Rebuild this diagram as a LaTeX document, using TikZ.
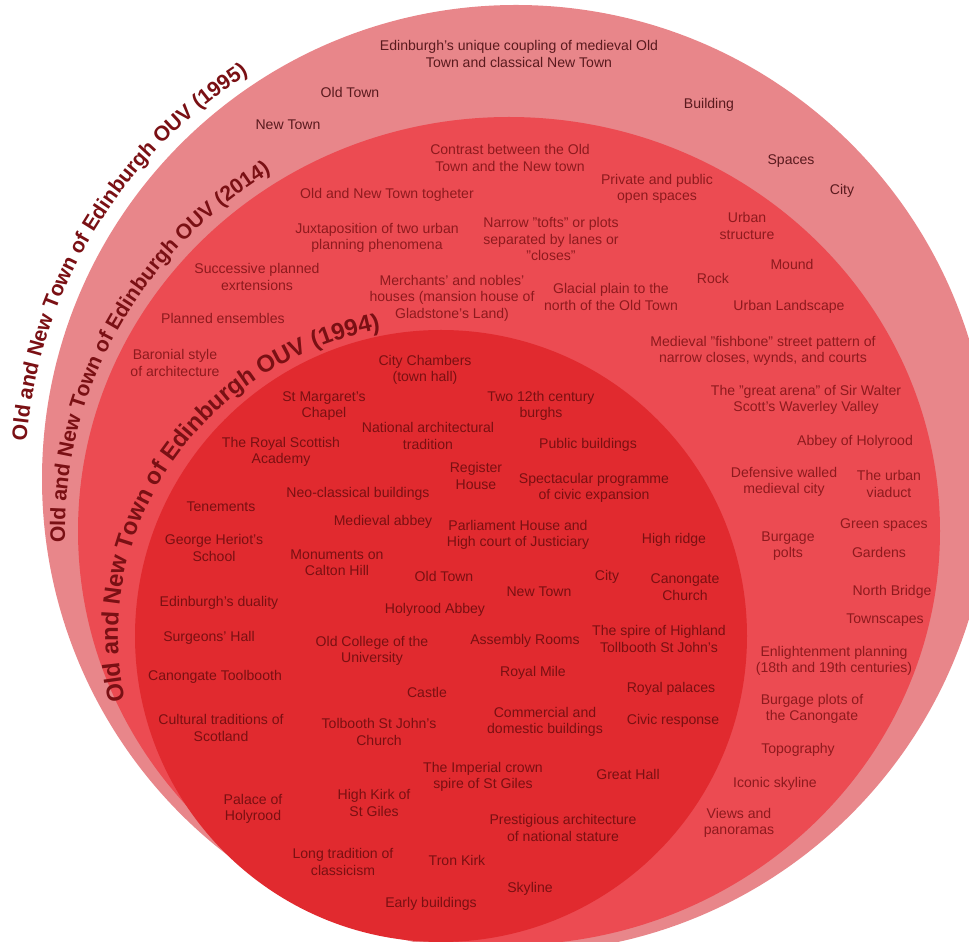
\documentclass[tikz,border=0pt]{standalone}
\usepackage{fontspec}
\setmainfont{Liberation Sans}
\usepackage{xcolor}
\usetikzlibrary{decorations.text}

\definecolor{outerpink}{HTML}{E8868A}
\definecolor{midred}{HTML}{EC4B52}
\definecolor{innerred}{HTML}{E12A2F}
\definecolor{outertext}{HTML}{5A1A1E}
\definecolor{midtext}{HTML}{8E1A1E}
\definecolor{innertext}{HTML}{7A1012}
\definecolor{titlered}{HTML}{7A1014}

\newcommand{\ttlfont}[1]{\bfseries\fontsize{#1}{#1}\selectfont}

\begin{document}
\begin{tikzpicture}[
    x=0.025cm, y=0.025cm,
    lbl/.style={align=center, inner sep=0pt, font=\fontsize{10}{11.7}\selectfont},
    outertxt/.style={lbl, text=outertext},
    midtxt/.style={lbl, text=midtext},
    innertxt/.style={lbl, text=innertext},
    ttl/.style={decorate, decoration={text along path, text align=left, text color=titlered, text={#1}}}
]

\useasboundingbox (0,0) rectangle (969,942);
\clip (0,0) rectangle (969,942);

\coordinate (outerc) at (516,463);
\coordinate (midc) at (509,411);
\coordinate (innerc) at (441,306);

% the three rings
\fill[outerpink] (outerc) circle[radius=474];
\fill[midred] (midc) ellipse[x radius=431, y radius=414];
\fill[innerred] (innerc) circle[radius=306];

% curved titles
\path[ttl={|\ttlfont{15}|Old and New Town of Edinburgh OUV (1995)}]
    ([shift={(175.5:491 and 483)}]outerc) arc[start angle=175.5, end angle=100, x radius=491, y radius=483];
\path[ttl={|\ttlfont{15}|Old and New Town of Edinburgh OUV (2014)}]
    ([shift={(181.6:444 and 425)}]midc) arc[start angle=181.6, end angle=100, x radius=444, y radius=425];
\path[ttl={|\ttlfont{17}|Old and New Town of Edinburgh OUV (1994)}]
    ([shift={(192:323 and 312)}]innerc) arc[start angle=192, end angle=90, x radius=323, y radius=312];

% outer ring (1995)
\node[outertxt] (coupling) at (519,888) {Edinburgh's unique coupling of medieval Old\\Town and classical New Town};
\node[outertxt] (oldtown-o) at (350,850) {Old Town};
\node[outertxt] (newtown-o) at (288,817) {New Town};
\node[outertxt] (building) at (709,837) {Building};
\node[outertxt] (spaces) at (791,781) {Spaces};
\node[outertxt] (city-o) at (842,751) {City};

% middle ring (2014)
\node[midtxt] (contrast) at (510,784) {Contrast between the Old\\Town and the New town};
\node[midtxt] (private) at (657,753) {Private and public\\open spaces};
\node[midtxt] (together) at (387,747) {Old and New Town togheter};
\node[midtxt] (tofts) at (551,703) {Narrow "tofts" or plots\\separated by lanes or\\"closes"};
\node[midtxt] (structure) at (747,716) {Urban\\structure};
\node[midtxt] (juxta) at (377,704) {Juxtaposition of two urban\\planning phenomena};
\node[midtxt] (successive) at (257,665) {Successive planned\\exrtensions};
\node[midtxt] (merchants) at (452,644) {Merchants' and nobles'\\houses (mansion house of\\Gladstone's Land)};
\node[midtxt] (glacial) at (611,645) {Glacial plain to the\\north of the Old Town};
\node[midtxt] (rock) at (713,664) {Rock};
\node[midtxt] (mound) at (792,678) {Mound};
\node[midtxt] (landscape) at (789,635) {Urban Landscape};
\node[midtxt] (ensembles) at (223,624) {Planned ensembles};
\node[midtxt] (baronial) at (175,579) {Baronial style\\of architecture};
\node[midtxt] (fishbone) at (763,591) {Medieval "fishbone" street pattern of\\narrow closes, wynds, and courts};
\node[midtxt] (arena) at (806,542) {The "great arena" of Sir Walter\\Scott's Waverley Valley};
\node[midtxt] (abbey-h) at (855,500) {Abbey of Holyrood};
\node[midtxt] (walled) at (784,460) {Defensive walled\\medieval city};
\node[midtxt] (viaduct) at (889,458) {The urban\\viaduct};
\node[midtxt] (green) at (884,417) {Green spaces};
\node[midtxt] (polts) at (788,396) {Burgage\\polts};
\node[midtxt] (gardens) at (879,390) {Gardens};
\node[midtxt] (bridge) at (892,350) {North Bridge};
\node[midtxt] (townscapes) at (885,322) {Townscapes};
\node[midtxt] (enlight) at (834,281) {Enlightenment planning\\(18th and 19th centuries)};
\node[midtxt] (burgage) at (812,233) {Burgage plots of\\the Canongate};
\node[midtxt] (topo) at (798,192) {Topography};
\node[midtxt] (iconic) at (775,158) {Iconic skyline};
\node[midtxt] (views) at (739,119) {Views and\\panoramas};

% inner ring (1994)
\node[innertxt] (chambers) at (425,572) {City Chambers\\(town hall)};
\node[innertxt] (margaret) at (324,536) {St Margaret's\\Chapel};
\node[innertxt] (burghs) at (541,536) {Two 12th century\\burghs};
\node[innertxt] (national) at (428,506) {National architectural\\tradition};
\node[innertxt] (academy) at (281,490) {The Royal Scottish\\Academy};
\node[innertxt] (public) at (588,497) {Public buildings};
\node[innertxt] (register) at (476,466) {Register\\House};
\node[innertxt] (spectacular) at (594,454) {Spectacular programme\\of civic expansion};
\node[innertxt] (tenements) at (221,435) {Tenements};
\node[innertxt] (neoclassical) at (358,448) {Neo-classical buildings};
\node[innertxt] (medabbey) at (383,420) {Medieval abbey};
\node[innertxt] (parliament) at (518,407) {Parliament House and\\High court of Justiciary};
\node[innertxt] (heriot) at (214,394) {George Heriot's\\School};
\node[innertxt] (calton) at (337,379) {Monuments on\\Calton Hill};
\node[innertxt] (ridge) at (674,402) {High ridge};
\node[innertxt] (oldtown-i) at (444,366) {Old Town};
\node[innertxt] (city-i) at (607,365) {City};
\node[innertxt] (newtown-i) at (539,350) {New Town};
\node[innertxt] (canongate) at (685,355) {Canongate\\Church};
\node[innertxt] (duality) at (219,339) {Edinburgh's duality};
\node[innertxt] (holyrood) at (435,332) {Holyrood Abbey};
\node[innertxt] (surgeons) at (209,304) {Surgeons' Hall};
\node[innertxt] (college) at (372,291) {Old College of the\\University};
\node[innertxt] (assembly) at (525,301) {Assembly Rooms};
\node[innertxt] (spire) at (659,303) {The spire of Highland\\Tollbooth St John's};
\node[innertxt] (toolbooth) at (215,265) {Canongate Toolbooth};
\node[innertxt] (royalmile) at (533,269) {Royal Mile};
\node[innertxt] (castle) at (427,250) {Castle};
\node[innertxt] (palaces) at (671,253) {Royal palaces};
\node[innertxt] (cultural) at (221,214) {Cultural traditions of\\Scotland};
\node[innertxt] (tolbooth) at (379,210) {Tolbooth St John's\\Church};
\node[innertxt] (commercial) at (545,220) {Commercial and\\domestic buildings};
\node[innertxt] (civic) at (673,221) {Civic response};
\node[innertxt] (crown) at (483,165) {The Imperial crown\\spire of St Giles};
\node[innertxt] (greathall) at (628,168) {Great Hall};
\node[innertxt] (palace) at (253,133) {Palace of\\Holyrood};
\node[innertxt] (kirk) at (374,139) {High Kirk of\\St Giles};
\node[innertxt] (prestigious) at (563,114) {Prestigious architecture\\of national stature};
\node[innertxt] (classicism) at (343,80) {Long tradition of\\classicism};
\node[innertxt] (tron) at (457,82) {Tron Kirk};
\node[innertxt] (skyline) at (530,53) {Skyline};
\node[innertxt] (early) at (431,38) {Early buildings};

\end{tikzpicture}
\end{document}
